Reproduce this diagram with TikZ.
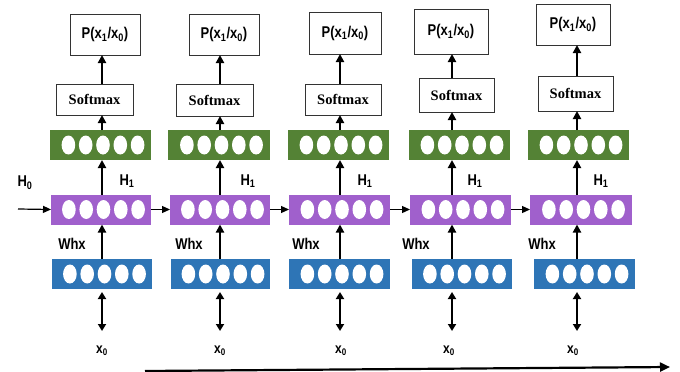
\documentclass[tikz,border=0pt]{standalone}
\usepackage{fontspec}
\setmainfont{Liberation Serif}
\newfontfamily\lsans{Liberation Sans}
\usetikzlibrary{arrows.meta,calc}

\definecolor{outgreen}{RGB}{84,130,53}
\definecolor{hidpurple}{RGB}{160,96,204}
\definecolor{inblue}{RGB}{46,117,182}

% narrow, tall lettering for the sans labels
\newcommand\tall[1]{\scalebox{1}[1.2]{#1}}

\tikzset{
  outbox/.style={draw=black!80, line width=0.8pt, fill=white, inner sep=0pt, outer sep=0pt,
    font=\lsans\bfseries\fontsize{13}{13}\selectfont},
  smbox/.style={draw=black!80, line width=0.8pt, fill=white, inner sep=0pt, outer sep=0pt,
    font=\bfseries\fontsize{14.5}{14.5}\selectfont},
  layerbar/.style={rectangle, inner sep=0pt, outer sep=0pt, minimum height=30pt},
  lbl/.style={font=\lsans\bfseries\fontsize{13}{13}\selectfont, inner sep=0pt},
  xlbl/.style={font=\lsans\bfseries\fontsize{12}{12}\selectfont, inner sep=0pt},
  varrow/.style={line width=2.2pt, -{Triangle[length=8pt,width=8pt]}},
  harrow/.style={line width=1.2pt, -{Triangle[length=8pt,width=7pt]}},
  darrow/.style={line width=2.2pt, {Triangle[length=7pt,width=8pt]}-{Triangle[length=7pt,width=8pt]}},
  timearrow/.style={line width=2.2pt, -{Triangle[length=10pt,width=9pt]}}
}

% five white units inside a layer bar
\newcommand\unitdots[1]{%
  \foreach \k in {-2,...,2}
    \fill[white] ($(#1.center)+(2.5+\k*17.3,0)$) ellipse [x radius=6.8pt, y radius=9.5pt];}

\begin{document}
\begin{tikzpicture}[x=1pt,y=-1pt]
\useasboundingbox (0,0) rectangle (680,372);

% i / arrow x / output box / softmax box / green, purple, blue bars / label x positions
\foreach \i/\ax/\pa/\pb/\pc/\pd/\sa/\sb/\sc/\sd/\ga/\gb/\ua/\ub/\ba/\bb/\hx/\wx/\xx in {
  1/102/70/140/14/55/56/133/84/115/50/151/51/151/52/152/127/72/102,
  2/220/189/259/14/55/176/253/84/116/168/270/170/270/171/270/248/189/220,
  3/340/309/381/12/54/305/381/84/115/288/389/289/390/289/390/365/306/341,
  4/452/414/488/9/54/419/494/78/112/409/510/410/511/412/512/475/416/449,
  5/577/536/610/4/45/538/613/76/111/528/629/530/632/534/635/601/542/573}{
  \coordinate (a\i) at (\ax,0);
  \node[outbox, minimum width={(\pb-\pa)*1pt}, minimum height={(\pd-\pc)*1pt}]
    (p\i) at ({(\pa+\pb)/2},{(\pc+\pd)/2}) {\tall{P(x\textsubscript{1}/x\textsubscript{0})}};
  \node[smbox, minimum width={(\sb-\sa)*1pt}, minimum height={(\sd-\sc)*1pt}]
    (s\i) at ({(\sa+\sb)/2},{(\sc+\sd)/2}) {Softmax};
  \node[layerbar, fill=outgreen, minimum width={(\gb-\ga)*1pt}] (g\i) at ({(\ga+\gb)/2},145) {};
  \node[layerbar, fill=hidpurple, minimum width={(\ub-\ua)*1pt}] (u\i) at ({(\ua+\ub)/2},209.5) {};
  \node[layerbar, fill=inblue, minimum width={(\bb-\ba)*1pt}] (b\i) at ({(\ba+\bb)/2},274) {};
  \unitdots{g\i}
  \unitdots{u\i}
  \unitdots{b\i}
  \node[lbl] (h\i) at (\hx,181) {\tall{H\textsubscript{1}}};
  \node[lbl] (w\i) at (\wx,244) {\tall{Whx}};
  \node[xlbl] (x\i) at (\xx,351) {\tall{x\textsubscript{0}}};
  \coordinate (dt\i) at (\ax,292);
  \coordinate (db\i) at (\ax,331);
  % upward flow through the column
  \draw[varrow] (b\i.north -| a\i) -- (u\i.south -| a\i);
  \draw[varrow] (u\i.north -| a\i) -- (g\i.south -| a\i);
  \draw[varrow] (g\i.north -| a\i) -- (s\i.south -| a\i);
  \draw[varrow] (s\i.north -| a\i) -- (p\i.south -| a\i);
  \draw[darrow] (dt\i) -- (db\i);
}

% recurrent connections
\node[lbl] (h0) at (25,183) {\tall{H\textsubscript{0}}};
\coordinate (hin) at (18,209);
\draw[harrow] (hin) -- (u1.west);
\draw[harrow] (u1.east) -- (u2.west);
\draw[harrow] (u2.east) -- (u3.west);
\draw[harrow] (u3.east) -- (u4.west);
\draw[harrow] (u4.east) -- (u5.west);

% time axis
\coordinate (ts) at (145,371);
\coordinate (te) at (670,367);
\draw[timearrow] (ts) -- (te);
\end{tikzpicture}
\end{document}
